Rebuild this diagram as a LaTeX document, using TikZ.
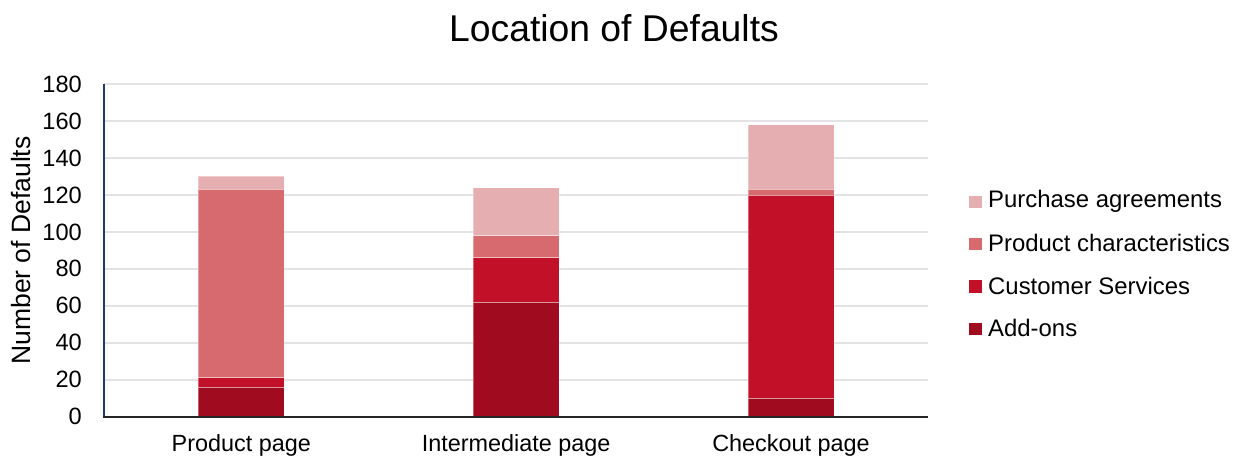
\documentclass[tikz,border=0pt]{standalone}
\usepackage{fontspec}
\setmainfont{Liberation Sans}
\definecolor{cAdd}{HTML}{A10B20}
\definecolor{cCust}{HTML}{C31029}
\definecolor{cProd}{HTML}{D66A6F}
\definecolor{cPurch}{HTML}{E5AFB1}
\definecolor{gridc}{HTML}{E3E3E3}
\definecolor{yaxc}{HTML}{1F3A73}
\definecolor{xaxc}{HTML}{262626}
\tikzset{
  seg/.style={draw=white, draw opacity=0.35, line width=0.8pt},
  ticklab/.style={anchor=east, font=\fontsize{23.6}{28}\selectfont, inner sep=0pt},
  catlab/.style={anchor=base, font=\fontsize{23.4}{28}\selectfont, inner sep=0pt},
  leglab/.style={anchor=west, font=\fontsize{23.9}{28}\selectfont, inner sep=0pt},
  legbox/.style={minimum size=12.4pt, inner sep=0pt, draw=none},
}
\begin{document}
\begin{tikzpicture}[x=1pt,y=-1pt]
\useasboundingbox[fill=white] (0,0) rectangle (1241,457);
% title
\node[anchor=base, font=\fontsize{37.3}{44}\selectfont, inner sep=0pt] (title) at (614,41.7) {Location of Defaults};
% grid and value axis
\begin{scope}[shift={(0,416.7)}, yscale=-1.848]
  \foreach \v in {20,40,...,180} {
    \draw[gridc, line width=1.6pt] (104,\v) -- (928,\v);
  }
  \foreach \v in {0,20,...,180} {
    \node[ticklab] (t\v) at (82,\v) {\v};
  }
  % bars: Product page
  \fill[cAdd]   (198.3,0)   rectangle (284.3,16);
  \fill[cCust]  (198.3,16)  rectangle (284.3,21);
  \fill[cProd]  (198.3,21)  rectangle (284.3,123);
  \fill[cPurch] (198.3,123) rectangle (284.3,130);
  \draw[seg] (198.3,0) rectangle (284.3,16);
  \draw[seg] (198.3,16) rectangle (284.3,21);
  \draw[seg] (198.3,21) rectangle (284.3,123);
  \draw[seg] (198.3,123) rectangle (284.3,130);
  % Intermediate page
  \fill[cAdd]   (473.2,0)  rectangle (559.2,62);
  \fill[cCust]  (473.2,62) rectangle (559.2,86);
  \fill[cProd]  (473.2,86) rectangle (559.2,98);
  \fill[cPurch] (473.2,98) rectangle (559.2,124);
  \draw[seg] (473.2,0) rectangle (559.2,62);
  \draw[seg] (473.2,62) rectangle (559.2,86);
  \draw[seg] (473.2,86) rectangle (559.2,98);
  \draw[seg] (473.2,98) rectangle (559.2,124);
  % Checkout page
  \fill[cAdd]   (748,0)   rectangle (834,10);
  \fill[cCust]  (748,10)  rectangle (834,120);
  \fill[cProd]  (748,120) rectangle (834,123);
  \fill[cPurch] (748,123) rectangle (834,158);
  \draw[seg] (748,0) rectangle (834,10);
  \draw[seg] (748,10) rectangle (834,120);
  \draw[seg] (748,120) rectangle (834,123);
  \draw[seg] (748,123) rectangle (834,158);
\end{scope}
% axes
\draw[yaxc, line width=1.8pt] (104,84) -- (104,417.5);
\draw[xaxc, line width=2.2pt] (103.1,417) -- (928,417);
% category labels
\node[catlab] (c1) at (241.3,451.7) {Product page};
\node[catlab] (c2) at (516.2,451.7) {Intermediate page};
\node[catlab] (c3) at (791,451.7) {Checkout page};
% axis title
\node[rotate=90, anchor=base, font=\fontsize{26.5}{30}\selectfont, inner sep=0pt] (ytitle) at (30,250.5) {Number of Defaults};
% legend
\node[legbox, fill=cPurch] (l1) at (975.5,201.7) {};
\node[legbox, fill=cProd]  (l2) at (975.5,244) {};
\node[legbox, fill=cCust]  (l3) at (975.5,286.3) {};
\node[legbox, fill=cAdd]   (l4) at (975.5,328.7) {};
\node[leglab] (lt1) at (988,201) {Purchase agreements};
\node[leglab] (lt2) at (988,243.3) {Product characteristics};
\node[leglab] (lt3) at (988,285.6) {Customer Services};
\node[leglab] (lt4) at (988,328) {Add-ons};
\end{tikzpicture}
\end{document}
